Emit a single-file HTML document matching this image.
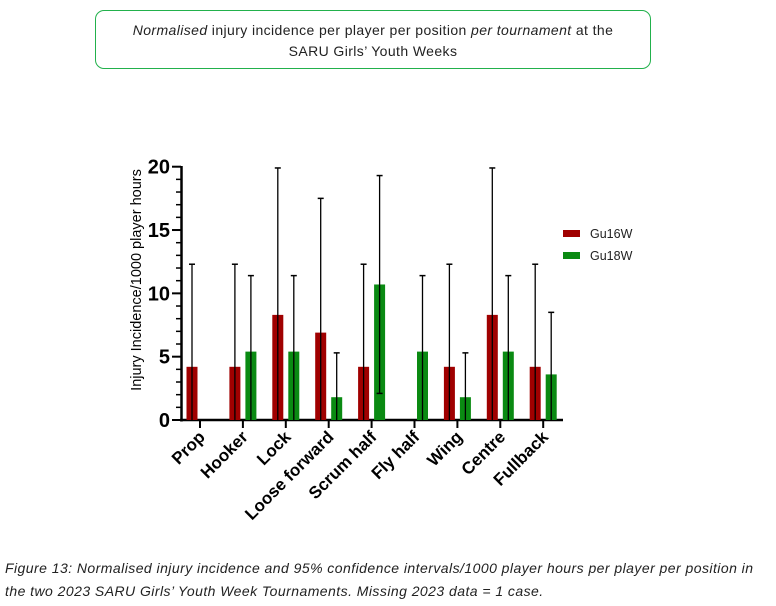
<!DOCTYPE html>
<html><head><meta charset="utf-8"><style>
body{margin:0;background:#fff;width:776px;height:606px;overflow:hidden;position:relative;font-family:"Liberation Sans",sans-serif}
#title{position:absolute;left:95px;top:10px;width:556px;height:59px;border:1.5px solid #22b14c;border-radius:9px;box-sizing:border-box;text-align:center;font-size:14px;letter-spacing:0.4px;line-height:21px;padding-top:9px;color:#222}
#caption{position:absolute;left:5px;top:557px;font-size:14px;letter-spacing:0.45px;font-style:italic;line-height:23px;color:#222;width:770px;white-space:nowrap}
svg{position:absolute;left:0;top:0}
</style></head><body>
<div id="title"><i>Normalised</i> injury incidence per player per position <i>per tournament</i> at the<br>SARU Girls’ Youth Weeks</div>
<svg id="chart" width="776" height="606"></svg>
<div id="caption">Figure 13: Normalised injury incidence and 95% confidence intervals/1000 player hours per player per position in<br>the two 2023 SARU Girls’ Youth Week Tournaments. Missing 2023 data = 1 case.</div>
<script>
const categories=["Prop","Hooker","Lock","Loose forward","Scrum half","Fly half","Wing","Centre","Fullback"];
const gu16=[4.2,4.2,8.3,6.9,4.2,null,4.2,8.3,4.2];
const gu16Hi=[12.3,12.3,19.9,17.5,12.3,null,12.3,19.9,12.3];
const gu16Lo=[0,0,0,0,0,null,0,0,0];
const gu18=[null,5.4,5.4,1.8,10.7,5.4,1.8,5.4,3.6];
const gu18Hi=[null,11.4,11.4,5.3,19.3,11.4,5.3,11.4,8.5];
const gu18Lo=[null,0,0,0,2.1,0,0,0,0];
const yTicks=[0,5,10,15,20];
const seriesNames=["Gu16W","Gu18W"];
const NS="http://www.w3.org/2000/svg";
const svg=document.getElementById('chart');
const y=v=>420-v*(253.3/20);
const x=i=>200+i*42.9;
function mk(t,a,p){const e=document.createElementNS(NS,t);for(const k in a)e.setAttribute(k,a[k]);(p||svg).appendChild(e);return e;}
let ax=mk('line',{x1:181.5,y1:166,x2:181.5,y2:421.5,stroke:'#000','stroke-width':2.5});


let xa=mk('line',{x1:180,y1:420,x2:563,y2:420,stroke:'#000','stroke-width':2.5});


for(let v=0;v<=20;v++){const major=v%5===0;mk('line',{x1:major?172:176,x2:181,y1:y(v),y2:y(v),stroke:'#000','stroke-width':major?2:1.5});}
yTicks.forEach(v=>{const t=mk('text',{x:170,y:y(v)+7,'text-anchor':'end','font-size':20,'font-weight':'bold'});t.textContent=v;

});
const yt=mk('text',{transform:'translate(141,280) rotate(-90)','text-anchor':'middle','font-size':14.5});
yt.textContent='Injury Incidence/1000 player hours';


function bar(v,hi,lo,cx,col,name){
 if(v==null)return;
 const r=mk('rect',{x:cx-5.5,y:y(v),width:11,height:420-y(v),fill:col});
 
 
 mk('line',{x1:cx,x2:cx,y1:y(hi),y2:y(lo),stroke:'#000','stroke-width':1.3});
 mk('line',{x1:cx-3,x2:cx+3,y1:y(hi),y2:y(hi),stroke:'#000','stroke-width':1.5});
 if(lo>0)mk('line',{x1:cx-3,x2:cx+3,y1:y(lo),y2:y(lo),stroke:'#000','stroke-width':1.5});
}
categories.forEach((c,i)=>{
 const cx=x(i);
 mk('line',{x1:cx,x2:cx,y1:420,y2:428,stroke:'#000','stroke-width':2});
 bar(gu16[i],gu16Hi[i],gu16Lo[i],cx-8,'#a00000','bar-gu16w');
 bar(gu18[i],gu18Hi[i],gu18Lo[i],cx+8,'#0a8a12','bar-gu18w');
 const t=mk('text',{transform:`translate(${cx+6},${438}) rotate(-45)`,'text-anchor':'end','font-size':17,'font-weight':'bold'});
 t.textContent=c;
 
 
});
const cols=['#a00000','#0a8a12'];
seriesNames.forEach((n,i)=>{
 const g=mk('g',{});
 
 
 mk('rect',{x:563,y:230+i*22,width:17,height:7,fill:cols[i]},g);
 const t=mk('text',{x:590,y:238+i*22,'font-size':12.5,fill:'#222'},g);t.textContent=n;
});
</script>
</body></html>
